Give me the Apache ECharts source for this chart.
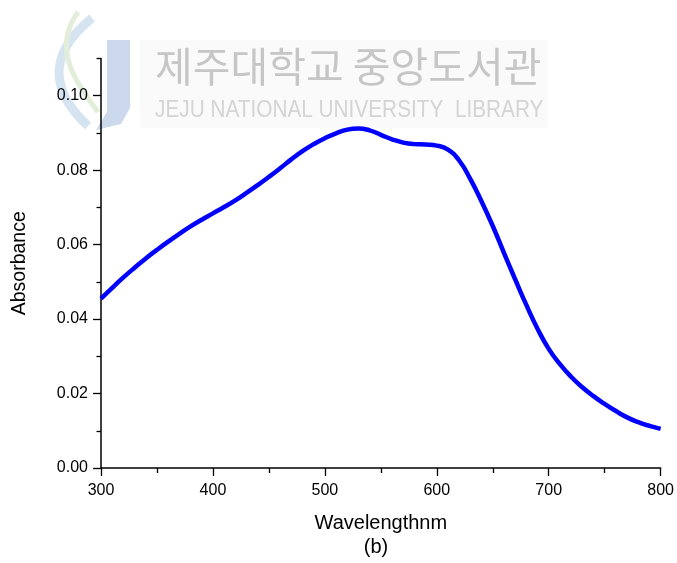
<!DOCTYPE html>
<html>
<head>
<meta charset="utf-8">
<script src="https://cdn.jsdelivr.net/npm/echarts@6/dist/echarts.min.js"></script>
<style>html,body{margin:0;padding:0;background:#fff}#c{width:677px;height:563px}</style>
</head>
<body>
<div id="c"></div>
<script>
var wavelengths = [300,310,320,330,340,350,360,370,380,390,400,410,420,430,440,450,460,470,480,490,500,510,520,530,540,550,560,570,580,590,600,610,620,630,640,650,660,670,680,690,700,710,720,730,740,750,760,770,780,790,800];
var absorbance = [0.0455,0.0484,0.0512,0.0538,0.0563,0.0586,0.0608,0.0629,0.0649,0.0667,0.0684,0.0701,0.0719,0.0739,0.0760,0.0782,0.0805,0.0829,0.0851,0.0870,0.0886,0.0899,0.0909,0.0912,0.0907,0.0895,0.0883,0.0874,0.0870,0.0869,0.0866,0.0855,0.0826,0.0776,0.0716,0.0650,0.0578,0.0507,0.0438,0.0374,0.0320,0.0279,0.0245,0.0217,0.0193,0.0172,0.0153,0.0136,0.0123,0.0113,0.0105];
var xTickLabels = [300,400,500,600,700,800];
var yTickLabels = [0.00,0.02,0.04,0.06,0.08,0.10];
var yMinorTicks = [0.01,0.03,0.05,0.07,0.09,0.11];

var data = wavelengths.map(function(w,i){return [w, absorbance[i]];});
var font = 'Liberation Sans, Arial, sans-serif';
var chart = echarts.init(document.getElementById('c'), null, {renderer:'canvas'});
chart.setOption({
  backgroundColor:'#fff',
  animation:false,
  grid:{left:101, right:16, top:58.5, bottom:95, containLabel:false},
  xAxis:{
    type:'value', min:300, max:800, interval:100,
    name:'Wavelengthnm', nameLocation:'middle', nameGap:45,
    nameTextStyle:{fontFamily:font, fontSize:20, color:'#000'},
    axisLine:{lineStyle:{color:'#000', width:1.5}},
    axisTick:{show:true, inside:false, length:8, lineStyle:{color:'#000', width:1.3}},
    minorTick:{show:true, splitNumber:2, length:5, lineStyle:{color:'#000', width:1.3}},
    axisLabel:{fontFamily:font, fontSize:16, color:'#000', margin:15,
      formatter:function(v){return xTickLabels.indexOf(v)>=0 ? String(v) : '';}},
    splitLine:{show:false}, minorSplitLine:{show:false}
  },
  yAxis:[{
    type:'value', min:0, max:0.11, interval:0.02,
    name:'Absorbance', nameLocation:'middle', nameGap:71, nameRotate:90,
    nameTextStyle:{fontFamily:font, fontSize:19.5, color:'#000'},
    axisLine:{show:true, lineStyle:{color:'#000', width:1.5}},
    axisTick:{show:true, inside:false, length:8, customValues:yTickLabels, lineStyle:{color:'#000', width:1.3}},
    axisLabel:{fontFamily:font, fontSize:16, color:'#000', margin:13, showMaxLabel:true, showMinLabel:true, customValues:yTickLabels,
      formatter:function(v){
        for (var i=0;i<yTickLabels.length;i++){ if (Math.abs(yTickLabels[i]-v)<1e-9) return yTickLabels[i].toFixed(2); }
        return '';
      }},
    splitLine:{show:false}
  },{
    type:'value', min:0, max:0.11, interval:0.01, position:'left', offset:0,
    axisLine:{show:false},
    axisTick:{show:true, inside:false, length:4.5, customValues:yMinorTicks, lineStyle:{color:'#000', width:1.3}},
    axisLabel:{show:false},
    splitLine:{show:false}
  }],
  graphic:[
    {type:'rect', z:-20, shape:{x:140, y:40, width:408, height:88}, style:{fill:'#fafafa'}},
    {type:'bezierCurve', z:-10, shape:{x1:92,y1:18,cpx1:40,cpy1:60,cpx2:58,cpy2:98,x2:88,y2:126}, style:{stroke:'#d6e4f2', lineWidth:9, fill:null}},
    {type:'bezierCurve', z:-10, shape:{x1:78,y1:12,cpx1:52,cpy1:48,cpx2:74,cpy2:80,x2:98,y2:112}, style:{stroke:'#e2eed9', lineWidth:5, fill:null}},
    {type:'polygon', z:-10, shape:{points:[[107,40],[130,40],[130,108],[121,124],[96,130],[107,112]]}, style:{fill:'#ccd8eb'}},
    {type:'text', z:-5, x:155, y:46, style:{text:'제주대학교 중앙도서관', font:'41px "Noto Sans CJK KR", sans-serif', fill:'#c6c6c6', textVerticalAlign:'top'}},
    {type:'text', z:-5, x:155, y:98, scaleX:0.866, style:{text:'JEJU NATIONAL UNIVERSITY  LIBRARY', font:'24px "Liberation Sans", sans-serif', fill:'#d4d4d4', textVerticalAlign:'top'}},
    {type:'text', x:376, y:547, style:{text:'(b)', font:'20px Liberation Sans, Arial, sans-serif', fill:'#000', textAlign:'center', textVerticalAlign:'middle'}}
  ],
  series:[{
    type:'line', data:data, smooth:true, showSymbol:false, symbol:'none',
    lineStyle:{color:'#0000ff', width:4.5}, z:10
  }]
});
</script>
</body>
</html>
